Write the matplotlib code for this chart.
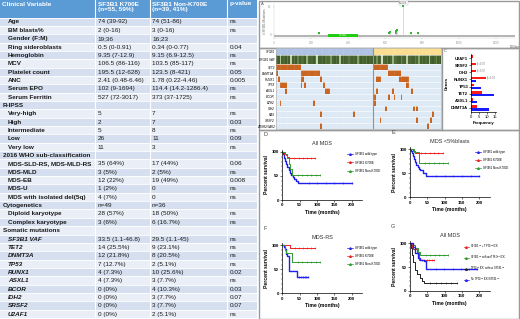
import numpy as np
import matplotlib
matplotlib.use("Agg")
import matplotlib.pyplot as plt
from matplotlib.patches import Rectangle
from matplotlib.colors import LinearSegmentedColormap, ListedColormap
from matplotlib.lines import Line2D

W, H = 520, 319
plt.rcParams['font.family'] = ['Liberation Sans', 'DejaVu Sans']

# === TABLE DATA ===
table_labels = ["Age", "BM blasts%", "Gender (F:M)", "Ring sideroblasts", "Hemoglobin", "MCV",
                "Platelet count", "ANC", "Serum EPO", "Serum Ferritin", "R-IPSS",
                "Very-high", "High", "Intermediate", "Low", "Very low",
                "2016 WHO sub-classification", "MDS-SLD-RS, MDS-MLD-RS", "MDS-MLD", "MDS-EB", "MDS-U",
                "MDS with isolated del(5q)", "Cytogenetics", "Diploid karyotype", "Complex karyotype",
                "Somatic mutations", "SF3B1 VAF", "TET2", "DNMT3A", "TP53", "RUNX1", "ASXL1",
                "BCOR", "IDH2", "SRSF2", "U2AF1"]
table_k700e = ["74 (39-92)", "2 (0-16)", "19;36", "0.5 (0-0.91)", "9.35 (7-12.9)", "106.5 (86-116)",
               "195.5 (12-628)", "2.41 (0.48-6.46)", "102 (9-1694)", "527 (72-3017)", "",
               "5", "2", "5", "26", "11",
               "", "35 (64%)", "3 (5%)", "12 (22%)", "1 (2%)",
               "4 (7%)", "n=49", "28 (57%)", "3 (6%)",
               "", "33.5 (1.1-46.8)", "14 (25.5%)", "12 (21.8%)", "7 (12.7%)", "4 (7.3%)", "4 (7.3%)",
               "0 (0%)", "0 (0%)", "0 (0%)", "0 (0%)"]
table_nonk700e = ["74 (51-86)", "3 (0-16)", "16;23", "0.34 (0-0.77)", "9.15 (6.9-12.5)", "103.5 (85-117)",
                  "123.5 (8-421)", "1.78 (0.22-4.46)", "114.4 (14.2-1286.4)", "373 (37-1725)", "",
                  "7", "7", "8", "11", "3",
                  "", "17 (44%)", "2 (5%)", "19 (49%)", "0",
                  "0", "n=36", "18 (50%)", "6 (16.7%)",
                  "", "29.5 (1.1-45)", "9 (23.1%)", "8 (20.5%)", "2 (5.1%)", "10 (25.6%)", "3 (7.7%)",
                  "4 (10.3%)", "3 (7.7%)", "3 (7.7%)", "2 (5.1%)"]
table_p = ["ns", "ns", "", "0.04", "ns", "ns", "0.05", "0.005", "ns", "ns", "",
           "ns", "0.03", "ns", "0.09", "ns",
           "", "0.06", "ns", "0.008", "ns", "ns", "", "ns", "ns",
           "", "ns", "ns", "ns", "ns", "0.02", "ns", "0.03", "0.07", "0.07", "ns"]
section_rows = [10, 16, 22, 25]
italic_rows = list(range(26, 36))

# === ONCOPRINT DATA (column indices of mutated patients) ===
onco_genes = ["TET2", "DNMT3A", "RUNX1", "TP53", "ASXL1", "BCOR", "EZH2", "IDH2", "RAS", "SRSF2", "ZRSR2/JAK2"]
onco_k700e = [list(range(0, 14)), [0] + list(range(14, 25)), [1, 14, 15, 25], [2, 3, 4, 5, 14, 16, 27],
              [5, 28, 29, 30], [], [2, 21], [], [25, 44], [], [25]]
onco_nonk700e = [list(range(0, 9)), [0] + list(range(9, 16)), [0, 2, 3, 4, 15, 16, 17, 18, 19, 20],
                 [19, 20], [2, 11, 22], [1, 9, 12, 16], [1], [7, 23, 25], [34], [4, 25, 33], [31]]
vaf_k700e = [38, 42, 12, 40, 35, 44, 30, 41, 8, 39,
             36, 43, 25, 40, 37, 33, 45, 15, 41, 38,
             36, 42, 34, 6, 39, 40, 37, 44, 30, 35,
             41, 20, 38, 43, 36, 39, 10, 42, 35, 40,
             37, 28, 44, 39, 36, 41, 18, 38, 42, 35,
             40, 33, 43, 37, 39]
vaf_nonk700e = [35, 40, 22, 38, 41, 5, 36, 39, 30, 42,
                37, 14, 40, 33, 38, 41, 26, 36, 39, 9,
                42, 35, 38, 40, 31, 37, 18, 41, 36, 39,
                34, 40, 12, 38, 43, 36, 29, 41, 37]

# === LOLLIPOP DATA ===
lolli_pos = [243, 622, 625, 660, 662, 666, 700, 741, 779]
lolli_count = [1, 2, 4, 2, 5, 7, 55, 1, 1]

# === BAR DATA ===
bar_genes = ["U2AF1", "SRSF2", "IDH2", "RUNX1", "TP53", "TET2", "ASXL1", "DNMT3A"]
bar_nonk700e = [1, 3, 3, 9, 2, 7, 1, 4]
bar_k700e = [0, 0, 0, 3, 6, 14, 4, 11]
bar_notes = {"SRSF2": "*p=0.07", "IDH2": "*p=0.07", "RUNX1": "*p=0.02"}

# === SURVIVAL DATA ===
km_D = {
    "SF3B1 wild type": ([0, 3, 6, 9, 12, 15, 18, 21, 25, 30, 35, 40, 45, 200],
                        [100, 95, 88, 82, 75, 68, 62, 57, 52, 47, 44, 40, 36, 36]),
    "SF3B1 K700E": ([0, 6, 10, 15, 20, 95], [100, 96, 93, 90, 87, 87]),
    "SF3B1 Non-K700E": ([0, 8, 14, 18, 22, 28, 110], [100, 95, 88, 75, 65, 53, 53]),
}
km_E = {
    "SF3B1 wild type": ([0, 3, 6, 9, 12, 15, 18, 22, 25, 30, 38, 45, 200],
                        [100, 96, 92, 87, 80, 73, 68, 63, 60, 56, 50, 45, 45]),
    "SF3B1 K700E": ([0, 8, 15, 95], [100, 96, 92, 92]),
    "SF3B1 Non-K700E": ([0, 12, 25, 110], [100, 95, 72, 72]),
}
km_F = {
    "SF3B1 wild type": ([0, 5, 8, 12, 15, 18, 20, 42, 75],
                        [100, 96, 93, 82, 78, 62, 47, 35, 35]),
    "SF3B1 K700E": ([0, 22, 95], [100, 94, 94]),
    "SF3B1 Non-K700E": ([0, 8, 12, 28, 110], [100, 90, 85, 65, 65]),
}
km_G = {
    "SF3B1$^{MT}$ + TP53$^{MT}$/CK": ([0, 5, 10, 20, 25, 70], [100, 93, 88, 80, 65, 65]),
    "SF3B1$^{MT}$ without TP53$^{MT}$/CK": ([0, 8, 15, 22, 30, 110], [100, 96, 90, 82, 76, 76]),
    "TP53$^{MT}$/CK without SF3B1$^{MT}$": ([0, 3, 6, 10, 14, 20, 28, 35, 40, 135],
                                          [100, 90, 75, 60, 45, 35, 28, 22, 16, 16]),
    "No TP53$^{MT}$/CK/SF3B1$^{MT}$": ([0, 8, 15, 22, 30, 40, 45, 195],
                                     [100, 92, 80, 70, 66, 62, 47, 47]),
}
km_colors3 = ["#2020ee", "#ee2020", "#2e9a2e"]
km_colors4 = ["#ee2020", "#2e9a2e", "#222222", "#2020ee"]

fig = plt.figure(figsize=(W / 100, H / 100), dpi=100)
fig.patch.set_facecolor("white")


def px_axes(x0, y0, x1, y1):
    return fig.add_axes([x0 / W, 1 - y1 / H, (x1 - x0) / W, (y1 - y0) / H])


# === BASE LAYER: table + frames ===
bg = px_axes(0, 0, W, H)
bg.set_xlim(0, W)
bg.set_ylim(H, 0)
bg.axis("off")

col_x = [0, 95, 149.5, 227, 257]
hdr_h = 17.5
row_h = (H - 1 - hdr_h) / len(table_labels)
bg.add_patch(Rectangle((0, 0), 257, hdr_h, color="#5b9bd5", lw=0))
hdr_texts = ["Clinical Variable", "SF3B1 K700E\n(n=55, 59%)", "SF3B1 Non-K700E\n(n=39, 41%)", "p-value"]
for i, t in enumerate(hdr_texts):
    bg.text(col_x[i] + 2.5, 1.5, t, color="white", fontsize=4.6, fontweight="bold",
            va="top", ha="left", linespacing=1.25)
for i, lab in enumerate(table_labels):
    y = hdr_h + i * row_h
    bg.add_patch(Rectangle((0, y), 257, row_h, color="#d5dfef" if i % 2 == 0 else "#eaeff7", lw=0))
    yc = y + row_h / 2 + 0.3
    sec = i in section_rows
    bg.text(3 if sec else 8, yc, lab, fontsize=4.6, fontweight="bold", va="center", ha="left",
            style="italic" if i in italic_rows else "normal", color="#1a1a1a")
    for j, val in enumerate([table_k700e[i], table_nonk700e[i], table_p[i]]):
        bg.text(col_x[j + 1] + 2.5, yc, val, fontsize=4.6, va="center", ha="left", color="#1a1a1a")
    bg.plot([0, 257], [y, y], color="white", lw=0.6)
for x in col_x[1:-1]:
    bg.plot([x, x], [0, H], color="white", lw=0.8)

# right side frames
frame_c = "#9a9a9a"
for (x0, y0, x1, y1) in [(258.5, 0.5, 519, 47.5), (258.5, 47.5, 519, 129.5), (258.5, 129.5, 519, 318.5)]:
    bg.add_patch(Rectangle((x0, y0), x1 - x0, y1 - y0, fill=False, ec=frame_c, lw=1.0))
bg.plot([441.5, 441.5], [47.5, 129.5], color=frame_c, lw=1.0)

# === A: lollipop ===
axA = px_axes(274, 4, 515, 38)
axA.set_xlim(0, 1304)
axA.set_ylim(-8, 60)
for p, c in zip(lolli_pos, lolli_count):
    axA.plot([p, p], [0, c + 1], color="#bbbbbb", lw=0.4)
    axA.plot(p, c + 1, "s", color="#33b533", ms=1.5, mew=0)
axA.text(700, 59, "K700E", fontsize=2, ha="center", va="bottom", color="#555555",
         bbox=dict(fc="white", ec="#999999", lw=0.2, pad=0.3))
axA.add_patch(Rectangle((0, -5), 1304, 4, color="#b5b5b5", lw=0))
axA.add_patch(Rectangle((290, -6.5), 165, 7, color="#22cc11", lw=0))
axA.text(372, -3, "SF3B1", fontsize=2, color="white", ha="center", va="center")
axA.set_xticks(range(0, 1304, 200))
axA.set_xticklabels([str(v) for v in range(0, 1304, 200)], fontsize=2.2, color="#666666")
axA.set_yticks([0, 55])
axA.set_yticklabels(["0", "60"], fontsize=2.2, color="#666666")
axA.tick_params(length=1, width=0.3, pad=1, colors="#999999")
axA.set_ylabel("# SF3B1 Mutations", fontsize=2.2, labelpad=1, color="#666666")
for s in ["top", "right"]:
    axA.spines[s].set_visible(False)
for s in ["left", "bottom"]:
    axA.spines[s].set_linewidth(0.3)
    axA.spines[s].set_color("#cccccc")
axA.text(1304, -21, "1304aa", fontsize=2.2, ha="center", va="top", color="#666666")
bg.text(261, 4, "A", fontsize=3, color="#555555", va="center")

# === B: oncoprint ===
n1, n2 = len(vaf_k700e), len(vaf_nonk700e)
n = n1 + n2
axB = px_axes(276, 48, 441, 129)
n_rows = len(onco_genes)
top_mut = 2.8
grp = np.array([[0] * n1 + [1] * n2])
axB.pcolormesh(np.arange(n + 1), [0, 1.2], grp, cmap=ListedColormap(["#a9bfe3", "#fbdc8a"]))
vaf_cmap = LinearSegmentedColormap.from_list("vaf", ["#eef4e2", "#94ad70", "#4d6e2f", "#34501d"])
vaf = np.array([vaf_k700e + vaf_nonk700e])
axB.pcolormesh(np.arange(n + 1), [1.2, top_mut], vaf, cmap=vaf_cmap, vmin=0, vmax=42)
mut = np.zeros((n_rows, n))
for g in range(n_rows):
    for c in onco_k700e[g]:
        mut[g, c] = 1
    for c in onco_nonk700e[g]:
        mut[g, n1 + c] = 1
axB.pcolormesh(np.arange(n + 1), top_mut + np.arange(n_rows + 1), mut,
               cmap=ListedColormap(["#dbe8f4", "#c55a11"]), vmin=0, vmax=1)
# thin grid
axB.vlines(np.arange(1, n), 0, top_mut + n_rows, color="white", lw=0.2, alpha=0.5)
axB.hlines([1.2, top_mut] + list(top_mut + np.arange(1, n_rows)), 0, n, color="white", lw=0.4)
axB.plot([n1, n1], [0, top_mut + n_rows], color="#8a9a8a", lw=0.8)
axB.set_xlim(0, n)
axB.set_ylim(top_mut + n_rows, 0)
axB.set_xticks([])
axB.set_yticks([0.6, 2.0] + list(top_mut + np.arange(n_rows) + 0.5))
axB.set_yticklabels(["SF3B1", "SF3B1 VAF"] + onco_genes, fontsize=2.2, style="italic")
axB.tick_params(length=0, pad=1)
for s in axB.spines.values():
    s.set_linewidth(0.4)
    s.set_color("#aaaaaa")

# === C: bar chart ===
axC = px_axes(471, 54, 496, 112)
yb = np.arange(len(bar_genes))
axC.barh(yb - 0.2, bar_nonk700e, height=0.38, color="#ff1a1a")
axC.barh(yb + 0.2, bar_k700e, height=0.38, color="#1a1aff")
for i, g in enumerate(bar_genes):
    if g in bar_notes:
        axC.text(bar_nonk700e[i] + 0.6, i - 0.2, bar_notes[g], fontsize=1.8, va="center", color="#777777")
axC.set_ylim(len(bar_genes) - 0.4, -0.6)
axC.set_xlim(0, 15.5)
axC.set_xticks([0, 5, 10, 15])
axC.set_yticks(yb)
axC.set_yticklabels(bar_genes, fontsize=3, fontweight="bold")
axC.tick_params(axis="x", labelsize=3, length=1.2, width=0.4, pad=0.8)
axC.tick_params(axis="y", length=1.2, width=0.4, pad=0.8)
axC.set_xlabel("Frequency", fontsize=3.2, fontweight="bold", labelpad=1.5)
axC.set_ylabel("Genes", fontsize=3.2, fontweight="bold", labelpad=1.5)
for s in ["top", "right"]:
    axC.spines[s].set_visible(False)
for s in ["left", "bottom"]:
    axC.spines[s].set_linewidth(0.5)
bg.text(444, 51, "C", fontsize=3, color="#555555", va="center")


# === D-G: survival ===
def km_panel(rect, letter, title, curves, colors, lxy, lfs):
    x0, y0, x1, y1 = rect
    ax = px_axes(x0, y0, x1, y1)
    handles = []
    for (name, (t, s)), c in zip(curves.items(), colors):
        lw = 1.0 if c == "#2020ee" else 0.7
        ax.step(t, s, where="post", color=c, lw=lw)
        cens_t = np.linspace(t[-2] + (t[-1] - t[-2]) * 0.2, t[-1], 6)
        ax.plot(cens_t, [s[-1]] * len(cens_t), "|", color=c, ms=1.5, mew=0.4)
        handles.append(Line2D([0], [0], color=c, lw=0.5, marker="^", ms=1.2))
    ax.set_xlim(0, 230)
    ax.set_ylim(0, 105)
    ax.set_xticks([0, 50, 100, 150, 200])
    ax.set_yticks([0, 50, 100])
    ax.set_yticks(range(0, 101, 10), minor=True)
    ax.tick_params(labelsize=3.2, length=1.5, width=0.4, pad=1)
    ax.tick_params(which="minor", length=0.8, width=0.3)
    for lab in ax.get_xticklabels() + ax.get_yticklabels():
        lab.set_fontweight("bold")
    for s in ["top", "right"]:
        ax.spines[s].set_visible(False)
    for s in ["left", "bottom"]:
        ax.spines[s].set_linewidth(0.5)
    ax.set_xlabel("Time (months)", fontsize=3.6, fontweight="bold", labelpad=1.5)
    ax.set_ylabel("Percent survival", fontsize=3.6, fontweight="bold", labelpad=2)
    ax.set_title(title, fontsize=4, pad=3, color="#333333")
    ax.legend(handles, list(curves.keys()), fontsize=lfs, frameon=False, loc="upper left",
              bbox_to_anchor=lxy, handlelength=2, handletextpad=0.6, labelspacing=1.4, borderaxespad=0)
    bg.text(x0 - 19, y0 - 15, letter, fontsize=4, color="#444444", va="center")


km_panel((282.3, 149.5, 362, 200), "D", "All MDS", km_D, km_colors3, (0.8, 0.97), 2.2)
km_panel((410, 147, 489.5, 197.3), "E", "MDS <5%blasts", km_E, km_colors3, (0.8, 0.97), 2.2)
km_panel((282.3, 243, 362, 293.3), "F", "MDS-RS", km_F, km_colors3, (0.8, 0.97), 2.2)
km_panel((410, 241, 489.5, 291), "G", "All MDS", km_G, km_colors4, (0.66, 1.0), 1.9)

fig.savefig("out.png", dpi=100, facecolor="white")
